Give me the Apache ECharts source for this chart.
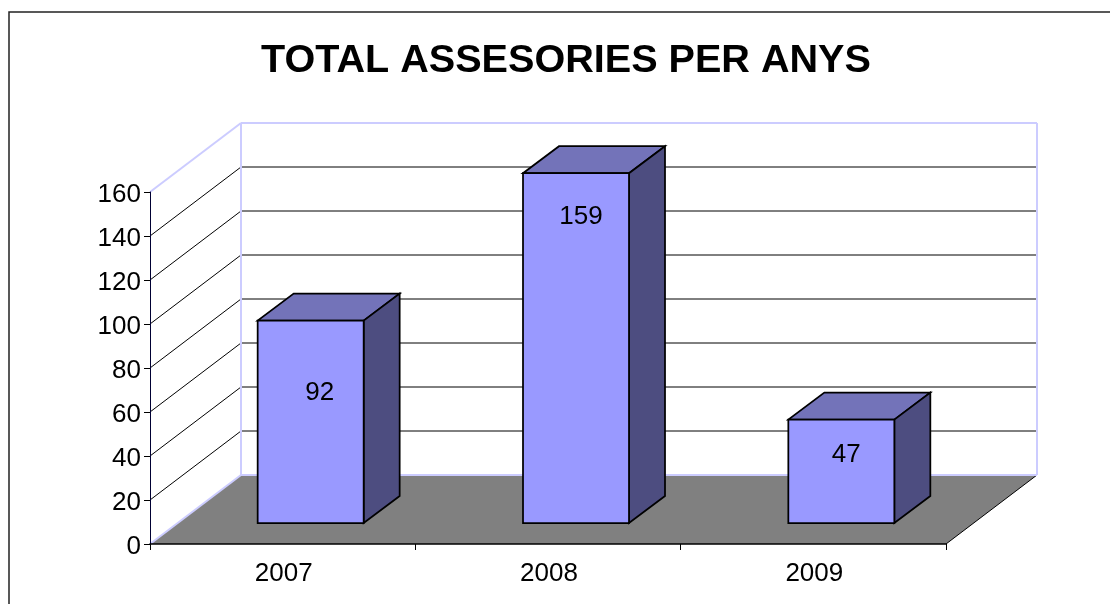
<!DOCTYPE html>
<html><head><meta charset="utf-8">
<style>html,body{margin:0;padding:0;background:#fff}#c{width:1110px;height:604px}</style>
<script src="https://cdn.jsdelivr.net/npm/echarts@6/dist/echarts.min.js"></script>
</head><body><div id="c"></div>
<script>
const categories = ['2007','2008','2009'];
const values = [92,159,47];
const yTicks = [20,40,60,80,100,120,140,160];
const FONT = '"Liberation Sans", Arial, sans-serif';
const DX = 91, DY = -69;             // wall depth offset
const BAR_W = 106, BAR_DX = 36, BAR_DY = -27, FRONT_DX = 28, FRONT_DY = -21; // bar geometry
const LABEL_NUDGE = [[9,-29],[5,-131],[5,-16]];
const chart = echarts.init(document.getElementById('c'), null, {renderer:'canvas'});
const lavender = '#CCCCFF';
function line(x1,y1,x2,y2,stroke,w){return {type:'line',shape:{x1,y1,x2,y2},style:{stroke,lineWidth:w,fill:null}};}
function poly(points,fill,stroke,w){return {type:'polygon',shape:{points},style:{fill,stroke,lineWidth:w,lineJoin:'miter'}};}
chart.setOption({
  animation:false,
  backgroundColor:'#fff',
  title:{text:'TOTAL ASSESORIES PER ANYS',left:261,top:41,padding:0,
    textStyle:{fontFamily:FONT,fontSize:39.6,fontWeight:'bold',color:'#000'}},
  graphic:[{type:'rect',z:-1,shape:{x:9,y:12,width:1200,height:700},style:{fill:'none',stroke:'#222',lineWidth:1.5}}],
  grid:{left:150,right:164,top:192,bottom:60},
  xAxis:{type:'category',data:categories,z:5,boundaryGap:true,
    axisLine:{lineStyle:{color:'#000',width:1.5}},
    axisTick:{show:true,alignWithLabel:false,length:6,lineStyle:{color:'#000'}},
    axisLabel:{fontFamily:FONT,fontSize:26,color:'#000',margin:17,padding:[0,0,0,2]},splitLine:{show:false}},
  yAxis:{type:'value',min:0,max:160,interval:20,z:5,
    axisLine:{show:true,lineStyle:{color:'#000033',width:1}},
    axisTick:{show:true,length:6,lineStyle:{color:'#000'}},
    axisLabel:{fontFamily:FONT,fontSize:26,color:'#000',margin:9,verticalAlign:'top',lineHeight:6},splitLine:{show:false}},
  series:[
    {type:'custom',name:'walls',z:1,silent:true,data:yTicks.map(v=>[0,v]),
     renderItem(p,api){
       const s=p.coordSys, v=api.value(1), y=api.coord([0,v])[1];
       const x0=s.x, bx=x0+DX, rx=s.x+s.width+DX;
       const c=[];
       if(v===160){
         const by=s.y+s.height;
         c.push(poly([[x0,by],[x0+s.width,by],[rx,by+DY],[bx,by+DY]],'#808080','none',0));
         c.push(line(x0+s.width,by,rx,by+DY,'#000',1));
         c.push(line(x0,by,bx,by+DY,lavender,2));
         c.push(line(bx,by+DY,rx,by+DY,lavender,2));
         c.push(line(rx,y+DY,rx,by+DY,lavender,2));
         c.push(line(x0,y,bx,y+DY,lavender,2));
         c.push(line(bx,y+DY,rx,y+DY,lavender,2));
         c.push(line(bx,y+DY,bx,by+DY,lavender,2));
       } else {
         c.push(line(x0,y,bx,y+DY,'#000',1));
         c.push(line(bx+1,y+DY,rx-1,y+DY,'#000',1));
       }
       return {type:'group',children:c};
     }},
    {type:'custom',name:'bars',z:3,data:values.map((v,i)=>[i,v]),
     renderItem(p,api){
       const i=api.value(0), v=api.value(1);
       const base=api.coord([i,0]), top=api.coord([i,v]);
       const x1=base[0]-BAR_W/2+FRONT_DX, x2=x1+BAR_W;
       const yb=base[1]+FRONT_DY, yt=top[1]+FRONT_DY;
       const n=LABEL_NUDGE[i];
       return {type:'group',children:[
         poly([[x1,yt],[x2,yt],[x2+BAR_DX,yt+BAR_DY],[x1+BAR_DX,yt+BAR_DY]],'#7373B9','#000',1.75),
         poly([[x2,yb],[x2,yt],[x2+BAR_DX,yt+BAR_DY],[x2+BAR_DX,yb+BAR_DY]],'#4D4D80','#000',1.75),
         {type:'rect',shape:{x:x1,y:yt,width:BAR_W,height:yb-yt},style:{fill:'#9999FF',stroke:'#000',lineWidth:1.75}},
         {type:'text',style:{text:String(v),x:(x1+x2)/2+n[0],y:(yt+yb)/2+n[1],align:'center',verticalAlign:'middle',
            font:'26px '+FONT,fill:'#000'}}
       ]};
     }}
  ]
});
</script></body></html>
